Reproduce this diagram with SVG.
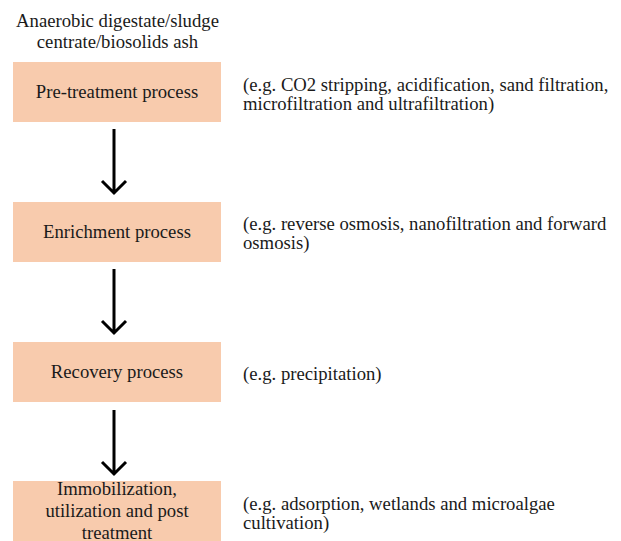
<svg xmlns="http://www.w3.org/2000/svg" width="621" height="541" viewBox="0 0 621 541">
<defs>
<style>
.c{text-anchor:middle}
.box{fill:#f8cbad}
.arr{stroke:#000;stroke-width:3;fill:none}
</style>
</defs>
<rect width="621" height="541" fill="#fff"/>
<g id="source">
<text font-family="'Liberation Serif'" font-size="18.7" fill="#1a1a1a" class="c" x="117.5" y="27">Anaerobic digestate/sludge</text>
<text font-family="'Liberation Serif'" font-size="18.7" fill="#1a1a1a" class="c" x="117.5" y="48">centrate/biosolids ash</text>
</g>
<g id="pretreatment">
<rect class="box" x="13" y="62" width="208" height="60"/>
<text font-family="'Liberation Serif'" font-size="18.7" fill="#1a1a1a" class="c" x="117" y="98">Pre-treatment process</text>
</g>
<g id="enrichment">
<rect class="box" x="13" y="202" width="208" height="60"/>
<text font-family="'Liberation Serif'" font-size="18.7" fill="#1a1a1a" class="c" x="117" y="238">Enrichment process</text>
</g>
<g id="recovery">
<rect class="box" x="13" y="342" width="208" height="60"/>
<text font-family="'Liberation Serif'" font-size="18.7" fill="#1a1a1a" class="c" x="117" y="378">Recovery process</text>
</g>
<g id="immobilization">
<rect class="box" x="13" y="481" width="208" height="62"/>
<text font-family="'Liberation Serif'" font-size="18.7" fill="#1a1a1a" class="c" x="117" y="495">Immobilization,</text>
<text font-family="'Liberation Serif'" font-size="18.7" fill="#1a1a1a" class="c" x="117" y="517">utilization and post</text>
<text font-family="'Liberation Serif'" font-size="18.7" fill="#1a1a1a" class="c" x="117" y="539">treatment</text>
</g>
<g id="notes">
<text font-family="'Liberation Serif'" font-size="18.7" fill="#1a1a1a" x="243" y="91">(e.g. CO2 stripping, acidification, sand filtration,</text>
<text font-family="'Liberation Serif'" font-size="18.7" fill="#1a1a1a" x="243" y="110">microfiltration and ultrafiltration)</text>
<text font-family="'Liberation Serif'" font-size="18.7" fill="#1a1a1a" x="243" y="230">(e.g. reverse osmosis, nanofiltration and forward</text>
<text font-family="'Liberation Serif'" font-size="18.7" fill="#1a1a1a" x="243" y="249">osmosis)</text>
<text font-family="'Liberation Serif'" font-size="18.7" fill="#1a1a1a" x="243" y="380">(e.g. precipitation)</text>
<text font-family="'Liberation Serif'" font-size="18.7" fill="#1a1a1a" x="243" y="510">(e.g. adsorption, wetlands and microalgae</text>
<text font-family="'Liberation Serif'" font-size="18.7" fill="#1a1a1a" x="243" y="529">cultivation)</text>
</g>
<g id="connectors">
<path class="arr" d="M114 129V192M102 181L114 193L126 181"/>
<path class="arr" d="M114 269V332M102 321L114 333L126 321"/>
<path class="arr" d="M114 410V473M102 462L114 474L126 462"/>
</g>
</svg>
